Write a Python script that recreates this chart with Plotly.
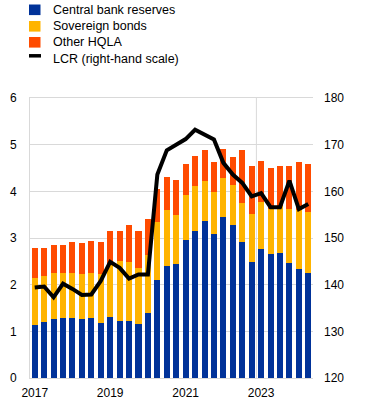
import plotly.graph_objects as go

quarters = [f"{y}Q{q}" for y in range(2017, 2025) for q in range(1, 5)][:30]

central_bank_reserves = [1.14, 1.21, 1.27, 1.29, 1.29, 1.27, 1.29, 1.18, 1.31, 1.23,
                         1.23, 1.16, 1.40, 2.11, 2.41, 2.44, 2.96, 3.16, 3.37, 3.09,
                         3.44, 3.28, 2.92, 2.49, 2.77, 2.66, 2.68, 2.47, 2.34, 2.24]
sovereign_bonds_cum = [2.15, 2.19, 2.24, 2.24, 2.24, 2.22, 2.24, 2.22, 2.42, 2.50,
                       2.49, 2.36, 2.63, 3.35, 3.61, 3.50, 3.93, 4.12, 4.23, 3.99,
                       4.29, 4.14, 3.74, 3.52, 3.78, 3.63, 3.68, 3.62, 3.60, 3.55]
total_hqla = [2.79, 2.79, 2.86, 2.86, 2.92, 2.90, 2.94, 2.92, 3.16, 3.16,
              3.28, 3.14, 3.40, 4.06, 4.31, 4.25, 4.59, 4.76, 4.89, 4.63,
              4.91, 4.74, 4.89, 4.55, 4.66, 4.49, 4.55, 4.55, 4.62, 4.59]
lcr = [139.4, 139.6, 137.3, 140.2, 139.1, 137.8, 137.9, 140.8, 144.9, 143.6,
       141.3, 142.2, 142.2, 163.6, 168.8, 170.1, 171.2, 173.2, 172.1, 171.1,
       166.1, 163.6, 161.8, 158.9, 159.6, 156.6, 156.6, 162.3, 156.2, 157.3]

sovereign_bonds = [round(s - c, 3) for s, c in zip(sovereign_bonds_cum, central_bank_reserves)]
other_hqla = [round(t - s, 3) for t, s in zip(total_hqla, sovereign_bonds_cum)]

tick_quarters = ["2017Q1", "2019Q1", "2021Q1", "2023Q1"]
tick_labels = ["2017", "2019", "2021", "2023"]

series_names = ["Central bank reserves", "Sovereign bonds", "Other HQLA", "LCR (right-hand scale)"]
colors = ["#003299", "#FFB400", "#FF4B00", "#000000"]

FONT = "Liberation Sans, Arial, sans-serif"

fig = go.Figure()
for name, vals, col in zip(series_names[:3], [central_bank_reserves, sovereign_bonds, other_hqla], colors[:3]):
    fig.add_trace(go.Bar(x=quarters, y=vals, name=name, marker=dict(color=col, line=dict(width=0)),
                         showlegend=False))
fig.add_trace(go.Scatter(x=quarters, y=lcr, name=series_names[3], mode="lines",
                         line=dict(color="black", width=4), yaxis="y2", showlegend=False))


def py(px):
    # convert pixel y (from top of page) to paper coordinate
    return 1 + (98 - px) / 280


def px_(px):
    return (px - 30) / 283


# manual legend
sym_y = [9.8, 26.3, 42.3, 55.8]
txt_y = [9.6, 26.0, 42.3, 59.0]
for i, (name, col) in enumerate(zip(series_names, colors)):
    if i < 3:
        fig.add_shape(type="rect", xref="paper", yref="paper",
                      x0=px_(29), x1=px_(40.5),
                      y0=py(sym_y[i] - 5.3), y1=py(sym_y[i] + 5.3),
                      fillcolor=col, line=dict(width=0))
    else:
        fig.add_shape(type="line", xref="paper", yref="paper",
                      x0=px_(29), x1=px_(41), y0=py(sym_y[i]), y1=py(sym_y[i]),
                      line=dict(color="black", width=3.5))
    fig.add_annotation(text=name, xref="paper", yref="paper",
                       x=px_(50.5), y=py(txt_y[i]),
                       xanchor="left", yanchor="middle", showarrow=False,
                       font=dict(size=12.5, color="black", family=FONT))

# vertical gridline at 2023
fig.add_shape(type="line", xref="x", yref="paper", x0=23.5, x1=23.5, y0=0, y1=1,
              line=dict(color="#d9d9d9", width=1), layer="below")

fig.update_layout(
    width=370, height=404,
    margin=dict(l=30, r=57, t=98, b=26, autoexpand=False),
    barmode="stack", bargap=0.36,
    plot_bgcolor="white", paper_bgcolor="white",
    font=dict(family=FONT, size=12, color="black"),
    xaxis=dict(type="category", categoryorder="array", categoryarray=quarters,
               tickmode="array", tickvals=tick_quarters, ticktext=tick_labels,
               showgrid=False, showline=True, linecolor="#d9d9d9", linewidth=1, mirror=True,
               ticks="", ticklabelstandoff=4, tickfont=dict(size=12, family=FONT),
               range=[-0.5, 29.5], automargin=False),
    yaxis=dict(range=[0, 6], dtick=1, showgrid=True, gridcolor="#d9d9d9", gridwidth=1,
               zeroline=False, showline=True, linecolor="#d9d9d9", ticks="",
               ticklabelstandoff=10, tickfont=dict(size=12, family=FONT), automargin=False),
    yaxis2=dict(range=[120, 180], dtick=10, overlaying="y", side="right", showgrid=False,
                zeroline=False, showline=False, ticks="", ticklabelstandoff=10,
                tickfont=dict(size=12, family=FONT), automargin=False),
)

fig.write_html("out.html", config={"displayModeBar": False},
               post_script="document.body.style.margin='0';document.body.style.padding='0';"
                           "document.body.style.overflow='hidden';")
